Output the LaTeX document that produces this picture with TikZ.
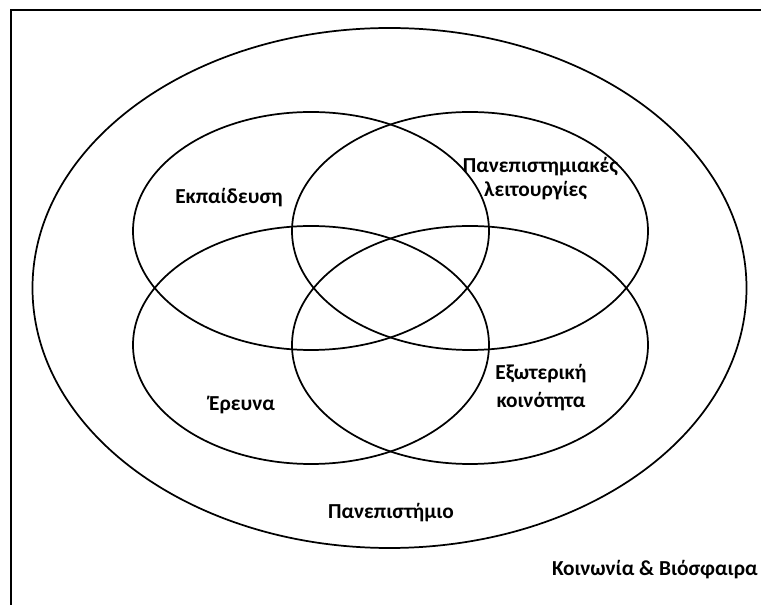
\documentclass[tikz,border=0pt]{standalone}
\usepackage{fontspec}
\setmainfont{Carlito}
\usetikzlibrary{shapes.geometric}
\tikzset{
  ring/.style={ellipse, draw, line width=1.3pt, minimum width=267pt, minimum height=178.5pt},
  lbl/.style={font=\bfseries\fontsize{16}{18}\selectfont, align=center, inner sep=0pt}
}
\begin{document}
\begin{tikzpicture}[x=0.75pt,y=-0.75pt]
  \useasboundingbox (0,0) rectangle (761,605);
  \draw[line width=2pt] (11,605) -- (11,10) -- (761,10);
  \node[ellipse, draw, line width=1.3pt, minimum width=535.5pt, minimum height=390pt] (society) at (389.5,288) {};
  \node[ring] (teaching) at (311,231) {};
  \node[ring] (functions) at (470,231) {};
  \node[ring] (research) at (311,345) {};
  \node[ring] (community) at (470,345) {};
  \node[lbl] (tlabel) at (229,198) {Εκπαίδευση};
  \node[lbl, align=left] (flabel) at (540.5,179) {Πανεπιστημιακές\\\hspace*{16pt}λειτουργίες};
  \node[lbl] (clabel) at (541,388) {Εξωτερική\\[3pt]κοινότητα};
  \node[lbl] (rlabel) at (242,405) {Έρευνα};
  \node[lbl] (ulabel) at (391,513) {Πανεπιστήμιο};
  \node[lbl, anchor=east] (slabel) at (758,570) {Κοινωνία \& Βιόσφαιρα};
\end{tikzpicture}
\end{document}
